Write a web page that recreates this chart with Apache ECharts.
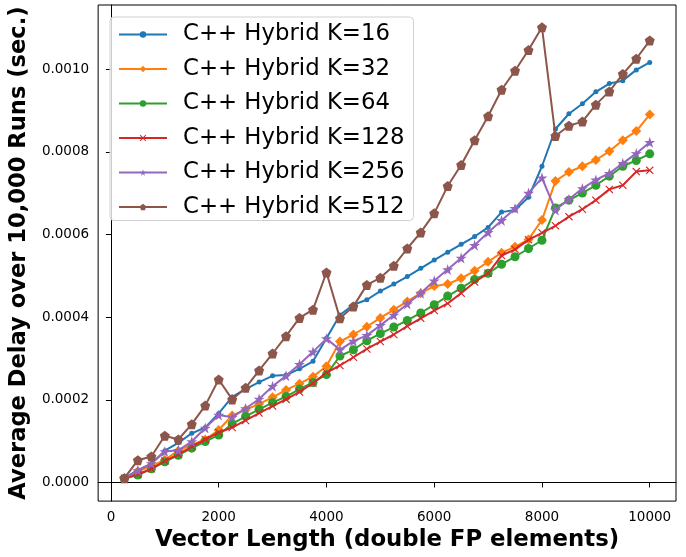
<!DOCTYPE html>
<html>
<head>
<meta charset="utf-8">
<script src="https://cdn.jsdelivr.net/npm/echarts@6/dist/echarts.min.js"></script>
<style>
html,body{margin:0;padding:0;background:#fff;}
#chart{width:686px;height:557px;}
</style>
</head>
<body>
<div id="chart"></div>
<script>
// Vector lengths (double FP elements)
const vectorLengths = [250,500,750,1000,1250,1500,1750,2000,2250,2500,2750,3000,3250,3500,3750,4000,
  4250,4500,4750,5000,5250,5500,5750,6000,6250,6500,6750,7000,7250,7500,7750,8000,8250,8500,8750,9000,
  9250,9500,9750,10000];

const k16 = [0.0000105,0.000030,0.000045,0.000077,0.000096,0.000119,0.000133,0.000167,0.000207,0.000226,
  0.000243,0.000258,0.000260,0.000275,0.000293,0.000349,0.000405,0.000430,0.000442,0.000463,
  0.000480,0.000498,0.000518,0.000538,0.000557,0.000576,0.000595,0.000617,0.000654,0.000659,
  0.000690,0.000765,0.000855,0.000892,0.000916,0.000945,0.000965,0.000972,0.000998,0.001016];

const k32 = [0.0000100,0.000027,0.000039,0.000055,0.000077,0.000091,0.000104,0.000127,0.000162,0.000176,
  0.000190,0.000206,0.000224,0.000239,0.000256,0.000281,0.000341,0.000358,0.000377,0.000398,
  0.000418,0.000438,0.000458,0.000475,0.000480,0.000494,0.000512,0.000534,0.000556,0.000570,
  0.000588,0.000635,0.000729,0.000751,0.000765,0.000780,0.000801,0.000828,0.000850,0.000890];

const k64 = [0.0000095,0.000018,0.000033,0.000050,0.000066,0.000083,0.000099,0.000115,0.000142,0.000160,
  0.000177,0.000193,0.000208,0.000226,0.000242,0.000261,0.000306,0.000321,0.000343,0.000360,
  0.000376,0.000392,0.000410,0.000430,0.000451,0.000470,0.000491,0.000506,0.000528,0.000546,
  0.000566,0.000586,0.000664,0.000683,0.000700,0.000719,0.000741,0.000765,0.000779,0.000795];

const k128 = [0.0000100,0.000020,0.000033,0.000052,0.000068,0.000087,0.000104,0.000121,0.000133,0.000150,
  0.000168,0.000185,0.000201,0.000219,0.000240,0.000266,0.000283,0.000303,0.000323,0.000341,
  0.000358,0.000378,0.000397,0.000416,0.000433,0.000458,0.000485,0.000506,0.000549,0.000564,
  0.000587,0.000604,0.000621,0.000643,0.000661,0.000683,0.000709,0.000719,0.000752,0.000755];

const k256 = [0.0000105,0.000029,0.000046,0.000075,0.000078,0.000099,0.000132,0.000163,0.000158,0.000179,
  0.000202,0.000233,0.000258,0.000286,0.000316,0.000348,0.000321,0.000342,0.000356,0.000380,
  0.000405,0.000432,0.000458,0.000488,0.000515,0.000543,0.000574,0.000605,0.000634,0.000663,
  0.000700,0.000737,0.000659,0.000685,0.000711,0.000732,0.000748,0.000772,0.000796,0.000823];

const k512 = [0.0000105,0.000054,0.000063,0.000113,0.000104,0.000141,0.000186,0.000249,0.000201,0.000229,
  0.000271,0.000312,0.000354,0.000398,0.000418,0.000508,0.000397,0.000426,0.000478,0.000495,
  0.000524,0.000566,0.000605,0.000651,0.000717,0.000768,0.000828,0.000886,0.000950,0.000996,
  0.001046,0.001101,0.000838,0.000863,0.000873,0.000914,0.000946,0.000988,0.001025,0.001069];

const seriesNames = ['C++ Hybrid K=16','C++ Hybrid K=32','C++ Hybrid K=64','C++ Hybrid K=128','C++ Hybrid K=256','C++ Hybrid K=512'];
const xTicks = [0,2000,4000,6000,8000,10000];
const yTicks = [0,0.0002,0.0004,0.0006,0.0008,0.0010];

const colors = ['#1f77b4','#ff7f0e','#2ca02c','#d62728','#9467bd','#8c564b'];
const starPath = 'path://M0,-1L0.223,-0.307L0.951,-0.309L0.361,0.117L0.588,0.809L0,0.38L-0.588,0.809L-0.361,0.117L-0.951,-0.309L-0.223,-0.307Z';
const pentPath = 'path://M0,-1L0.951,-0.309L0.588,0.809L-0.588,0.809L-0.951,-0.309Z';
const xPath = 'path://M-1,-0.8L-0.8,-1L0,-0.2L0.8,-1L1,-0.8L0.2,0L1,0.8L0.8,1L0,0.2L-0.8,1L-1,0.8L-0.2,0Z';
const symbols = ['circle','diamond','circle',xPath,starPath,pentPath];
const sizes = [5,10,9,8,11,10];
const allData = [k16,k32,k64,k128,k256,k512];

const chart = echarts.init(document.getElementById('chart'), null, {renderer:'canvas'});
const FONT = 'DejaVu Sans';

const series = allData.map((vals, idx) => ({
  name: seriesNames[idx],
  type: 'line',
  data: vectorLengths.map((x, j) => [x, vals[j]]),
  symbol: symbols[idx],
  symbolSize: sizes[idx],
  showAllSymbol: true,
  lineStyle: {color: colors[idx], width: 2},
  itemStyle: {color: colors[idx], borderWidth: 0},
  emphasis: {disabled: true},
  animation: false,
  z: 2 + idx
}));

chart.setOption({
  animation: false,
  color: colors,
  grid: {left: 98, right: 10, top: 5, bottom: 54, show: true, borderColor: '#000', borderWidth: 1, containLabel: false},
  legend: {
    orient: 'vertical',
    left: 110,
    top: 17,
    itemWidth: 48,
    itemHeight: 8,
    itemGap: 11.5,
    padding: [6, 9, 2, 8],
    backgroundColor: 'rgba(255,255,255,0.8)',
    borderColor: '#d0d0d0',
    borderWidth: 1,
    borderRadius: 4,
    textStyle: {fontFamily: FONT, fontSize: 22.8, color: '#000', lineHeight: 23, padding: [0,0,0,11]},
    data: seriesNames,
    z: 20
  },
  xAxis: {
    type: 'value',
    min: -237.5,
    max: 10487.5,
    name: 'Vector Length (double FP elements)',
    nameLocation: 'middle',
    nameGap: 25,
    nameTextStyle: {fontFamily: FONT, fontSize: 22.8, fontWeight: 'bold', color: '#000'},
    axisLine: {show: true, lineStyle: {color: '#000', width: 1}},
    axisTick: {show: true, length: 5, lineStyle: {color: '#000', width: 1}, customValues: xTicks},
    axisLabel: {fontFamily: FONT, fontSize: 13.5, color: '#000', margin: 9, customValues: xTicks,
      formatter: v => String(Math.round(v))},
    splitLine: {show: false}
  },
  yAxis: {
    type: 'value',
    min: -0.000045,
    max: 0.001155,
    name: 'Average Delay over 10,000 Runs (sec.)',
    nameLocation: 'middle',
    nameGap: 54,
    nameTextStyle: {fontFamily: FONT, fontSize: 22.6, fontWeight: 'bold', color: '#000'},
    axisLine: {show: true, lineStyle: {color: '#000', width: 1}},
    axisTick: {show: true, length: 5, lineStyle: {color: '#000', width: 1}, customValues: yTicks},
    axisLabel: {fontFamily: FONT, fontSize: 13.5, color: '#000', margin: 9, customValues: yTicks,
      formatter: v => v.toFixed(4)},
    splitLine: {show: false}
  },
  series: series
});
</script>
</body>
</html>
